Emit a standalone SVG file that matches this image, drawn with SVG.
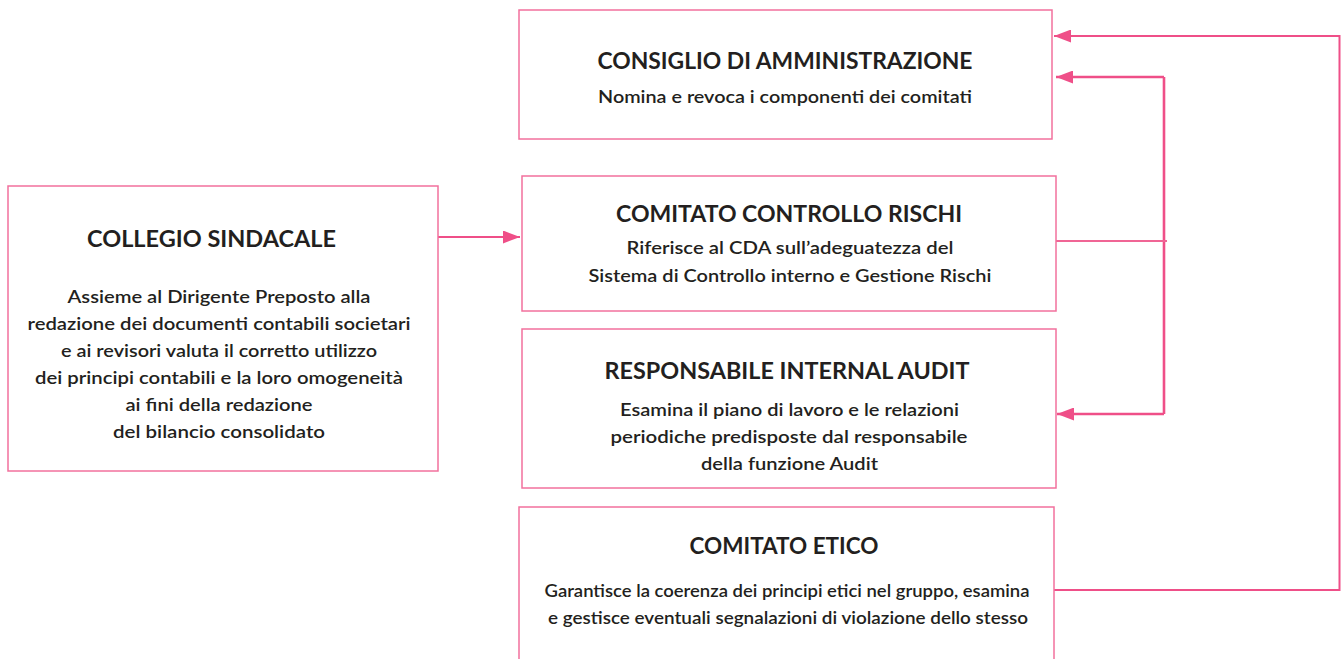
<svg xmlns="http://www.w3.org/2000/svg" width="1341" height="659" viewBox="0 0 1341 659">
<defs>
<style>
.box{fill:#fff;stroke:#F2709D;stroke-width:1.5}
.t{font-family:Lato,"Liberation Sans",sans-serif;font-weight:700;font-size:22px;fill:#231F20;text-anchor:middle}
.s{font-family:Lato,"Liberation Sans",sans-serif;font-weight:600;font-size:17.5px;fill:#231F20;text-anchor:middle}
.c{fill:none;stroke:#EF4F88;stroke-width:2}
.ci{fill:none;stroke:#EF4F88;stroke-width:2.6}
.cl{fill:none;stroke:#F06595;stroke-width:1.8}
</style>
<marker id="ah" markerUnits="userSpaceOnUse" markerWidth="18" markerHeight="13" refX="17" refY="6.5" orient="auto">
<path d="M0,0 L17,6.5 L0,13 Z" fill="#EF4F88"/>
</marker>
</defs>
<rect width="1341" height="659" fill="#fff"/>
<g id="connectors">
<path class="c" d="M438,237 H520" marker-end="url(#ah)"/>
<path class="c" d="M1054,590 H1339.5 V36 H1054" marker-end="url(#ah)"/>
<path class="ci" d="M1164,77 V414"/>
<path class="ci" d="M1164,77 H1056" marker-end="url(#ah)"/>
<path class="ci" d="M1164,414 H1057" marker-end="url(#ah)"/>
<path class="cl" d="M1056,241 H1167"/>
</g>
<g id="consiglio">
<rect class="box" x="519" y="10" width="533" height="129"/>
<text class="t" x="785" y="69" textLength="375" lengthAdjust="spacingAndGlyphs">CONSIGLIO DI AMMINISTRAZIONE</text>
<text class="s" x="785" y="103" textLength="374" lengthAdjust="spacingAndGlyphs">Nomina e revoca i componenti dei comitati</text>
</g>
<g id="collegio">
<rect class="box" x="8" y="186" width="430" height="285"/>
<text class="t" x="211.5" y="247" textLength="249" lengthAdjust="spacingAndGlyphs">COLLEGIO SINDACALE</text>
<text class="s" x="219" y="303" textLength="303" lengthAdjust="spacingAndGlyphs">Assieme al Dirigente Preposto alla</text>
<text class="s" x="219" y="330" textLength="383" lengthAdjust="spacingAndGlyphs">redazione dei documenti contabili societari</text>
<text class="s" x="219" y="357" textLength="316" lengthAdjust="spacingAndGlyphs">e ai revisori valuta il corretto utilizzo</text>
<text class="s" x="219" y="384" textLength="368" lengthAdjust="spacingAndGlyphs">dei principi contabili e la loro omogeneità</text>
<text class="s" x="219" y="411" textLength="187" lengthAdjust="spacingAndGlyphs">ai fini della redazione</text>
<text class="s" x="219" y="438" textLength="212" lengthAdjust="spacingAndGlyphs">del bilancio consolidato</text>
</g>
<g id="rischi">
<rect class="box" x="522" y="176" width="534" height="135"/>
<text class="t" x="789" y="222" textLength="346" lengthAdjust="spacingAndGlyphs">COMITATO CONTROLLO RISCHI</text>
<text class="s" x="790" y="254" textLength="327" lengthAdjust="spacingAndGlyphs">Riferisce al CDA sull’adeguatezza del</text>
<text class="s" x="790" y="282" textLength="403" lengthAdjust="spacingAndGlyphs">Sistema di Controllo interno e Gestione Rischi</text>
</g>
<g id="audit">
<rect class="box" x="522" y="329" width="534" height="159"/>
<text class="t" x="787" y="379" textLength="365" lengthAdjust="spacingAndGlyphs">RESPONSABILE INTERNAL AUDIT</text>
<text class="s" x="789.5" y="416" textLength="339" lengthAdjust="spacingAndGlyphs">Esamina il piano di lavoro e le relazioni</text>
<text class="s" x="789" y="443" textLength="357" lengthAdjust="spacingAndGlyphs">periodiche predisposte dal responsabile</text>
<text class="s" x="789.5" y="470" textLength="177" lengthAdjust="spacingAndGlyphs">della funzione Audit</text>
</g>
<g id="etico">
<rect class="box" x="519" y="507" width="535" height="160"/>
<text class="t" x="784" y="554" textLength="189" lengthAdjust="spacingAndGlyphs">COMITATO ETICO</text>
<text class="s" x="787" y="597" textLength="485" lengthAdjust="spacingAndGlyphs">Garantisce la coerenza dei principi etici nel gruppo, esamina</text>
<text class="s" x="788" y="624" textLength="480" lengthAdjust="spacingAndGlyphs">e gestisce eventuali segnalazioni di violazione dello stesso</text>
</g>
</svg>
